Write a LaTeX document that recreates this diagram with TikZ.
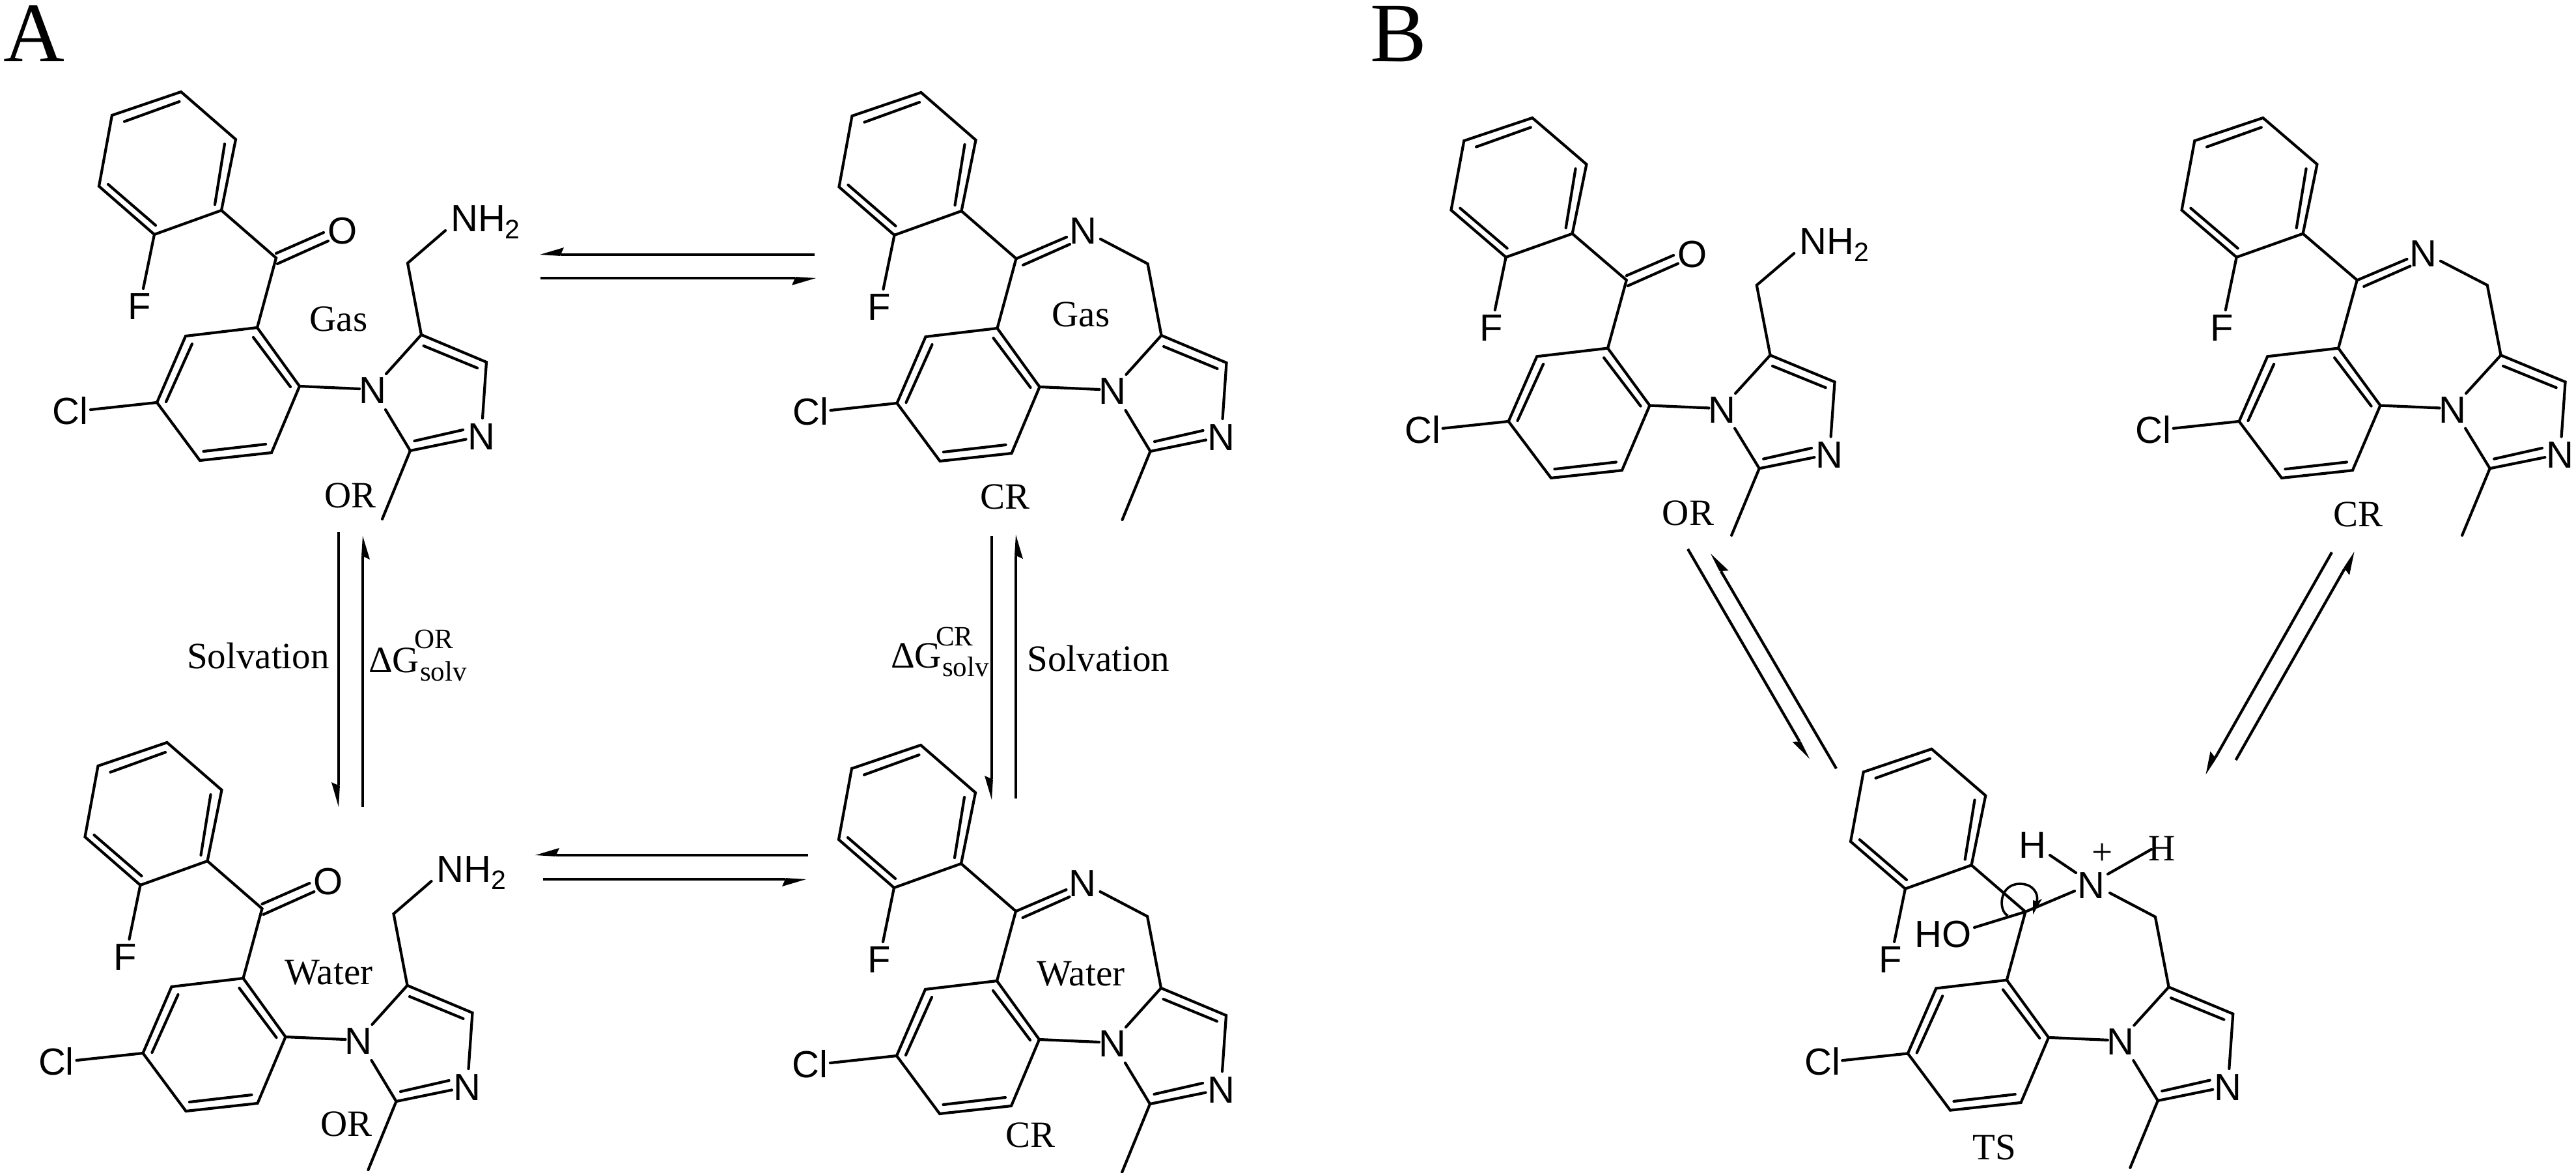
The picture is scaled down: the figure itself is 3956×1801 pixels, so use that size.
\documentclass[tikz,border=0pt]{standalone}
\usepackage{fontspec}
\setmainfont{Liberation Serif}
\newfontfamily\atomfam{Liberation Sans}
\usetikzlibrary{calc}
\tikzset{
  bond/.style={line width=4.2pt,line cap=round,line join=miter,black},
  rxn/.style={line width=4.2pt,line cap=butt,black},
  atom/.style={inner sep=0pt,font=\atomfam\fontsize{58}{60}\selectfont},
  atomb/.style={atom,anchor=base west},
  txt/.style={inner sep=0pt,font=\fontsize{57}{60}\selectfont},
  txtb/.style={txt,anchor=base west},
  idx/.style={inner sep=0pt,anchor=base west,font=\fontsize{43}{46}\selectfont},
  panel/.style={inner sep=0pt,anchor=base west,font=\fontsize{130}{135}\selectfont}
}
% common skeleton: #1 name prefix
\newcommand{\molcore}[1]{%
  \foreach \n/\x/\y in {a/278/141,b/362/214,c/340/323,d/237/360,e/152/286,f/172/177,
    ia/275.5/156,ib/191/186.6,ic/345/221,id/330/314,ie/166/283,if/239/346,
    g/424/396,h/395/503,i/460/593,j/417/695,k/307/707,l/241/618,m/285/516,
    ig/389/518,ih/446/594,ii/295/528,ij/255/617,ik/312.5/693,il/408/682,
    n/647/514,o/747/556,p/630/692,q/626/404,me/587/797,
    ff/220/443,cl/139/629,na/552/597,nb/593/574,nc/592/629,
    oa/741/642,ob/715.5/674.5,oc/711/660,od/636.5/677,
    im/650.5/531,in/733/565}
    {\coordinate (#1\n) at (\x,\y);}
  \draw[bond] (#1a)--(#1b)--(#1c)--(#1d)--(#1e)--(#1f)--cycle;
  \draw[bond] (#1ia)--(#1ib);
  \draw[bond] (#1ic)--(#1id);
  \draw[bond] (#1ie)--(#1if);
  \draw[bond] (#1h)--(#1i)--(#1j)--(#1k)--(#1l)--(#1m)--cycle;
  \draw[bond] (#1ig)--(#1ih);
  \draw[bond] (#1ii)--(#1ij);
  \draw[bond] (#1ik)--(#1il);
  \draw[bond] (#1c)--(#1g)--(#1h);
  \draw[bond] (#1d)--(#1ff);
  \draw[bond] (#1l)--(#1cl);
  \draw[bond] (#1i)--(#1na);
  \draw[bond] (#1nb)--(#1n)--(#1o)--(#1oa);
  \draw[bond] (#1nc)--(#1p)--(#1ob);
  \draw[bond] (#1oc)--(#1od);
  \draw[bond] (#1im)--(#1in);
  \draw[bond] (#1p)--(#1me);
  \node[atom] (#1F) at (214,471) {F};
  \node[atom] (#1Cl) at (108,631) {Cl};
  \node[atom] (#1Na) at (572,600) {N};
  \node[atom] (#1Nb) at (739,671) {N};
}
% ketone + aminomethyl
\newcommand{\oxopart}[1]{%
  \coordinate (#1ka) at (424,389); \coordinate (#1kb) at (497,357);
  \coordinate (#1kc) at (426,405); \coordinate (#1kd) at (504,370);
  \coordinate (#1ke) at (684,354);
  \draw[bond] (#1ka)--(#1kb);
  \draw[bond] (#1kc)--(#1kd);
  \draw[bond] (#1n)--(#1q)--(#1ke);
  \node[atom] (#1O) at (526,355) {O};
  \node[atomb] (#1NH) at (692,355) {NH\raisebox{-11pt}{\fontsize{41}{42}\selectfont 2}};
}
% imine ring closure
\newcommand{\iminepart}[1]{%
  \coordinate (#1ka) at (424.5,396); \coordinate (#1kb) at (501.5,363);
  \coordinate (#1kc) at (434.5,406); \coordinate (#1kd) at (506.5,374);
  \coordinate (#1ke) at (553.5,366);
  \draw[bond] (#1ka)--(#1kb);
  \draw[bond] (#1kc)--(#1kd);
  \draw[bond] (#1n)--(#1q)--(#1ke);
  \node[atom] (#1Nc) at (526.5,354) {N};
}
% half-headed reaction arrow: name, tail, tip, barb
\newcommand{\halfarrow}[4]{%
  \coordinate (#1t) at (#2);
  \coordinate (#1h) at (#3);
  \coordinate (#1b) at (#4);
  \coordinate (#1p) at ($(#1h)!(#1b)!(#1t)$);
  \coordinate (#1n) at ($(#1p)!5pt!(#1h)$);
  \coordinate (#1m) at ($(#1n)!-2.1pt!(#1b)$);
  \draw[rxn] (#1t)--(#1n);
  \fill[black] (#1h)--(#1b)--(#1n)--(#1m)--cycle;
}
\begin{document}
\begin{tikzpicture}[x=1pt,y=-1pt]
\useasboundingbox (0,0) rectangle (3956,1801);
\fill[white] (0,0) rectangle (3956,1801);

\node[panel] (panelA) at (5,95) {A};
\node[panel] (panelB) at (2104,95) {B};

% panel A molecules
\begin{scope}
  \molcore{ga}\oxopart{ga}
\end{scope}
\begin{scope}[shift={(1136.5,1)}]
  \molcore{gc}\iminepart{gc}
\end{scope}
\begin{scope}[shift={(-21.5,999)}]
  \molcore{wa}\oxopart{wa}
\end{scope}
\begin{scope}[shift={(1136,1003)}]
  \molcore{wc}\iminepart{wc}
\end{scope}

% panel B molecules
\begin{scope}[shift={(2078,43.2)},xscale=0.99,yscale=0.977]
  \molcore{bo}\oxopart{bo}
\end{scope}
\begin{scope}[shift={(3200,43.2)},xscale=0.99,yscale=0.977]
  \molcore{bc}\iminepart{bc}
\end{scope}
\begin{scope}[shift={(2692,1011.8)},xscale=0.987,yscale=0.98]
  \molcore{ts}
\end{scope}

% transition state extras
\node[atom] (tsNp) at (3211,1360) {N};
\node[atom] (tsHO) at (2984,1435) {HO};
\node[atom] (tsHa) at (3121,1298) {H};
\node[txt] (tsHb) at (3320,1303) {H};
\node[txt] (tsPlus) at (3229,1311) {+};
\coordinate (tsga) at (3032,1424);
\coordinate (tsgb) at (3186,1368);
\coordinate (tsqa) at (3240,1371);
\coordinate (tsha) at (3188,1340);
\coordinate (tshb) at (3148,1313);
\coordinate (tshc) at (3237,1342);
\coordinate (tshd) at (3304,1304);
\draw[bond] (tsga)--(tsg)--(tsgb);
\draw[bond] (tsqa)--(tsq)--(tsn);
\draw[bond] (tsha)--(tshb);
\draw[bond] (tshc)--(tshd);
\coordinate (cva) at (3083.5,1406);
\coordinate (cvb) at (3102,1357);
\coordinate (cvc) at (3128,1384);
\coordinate (cvd) at (3122,1404);
\coordinate (cve) at (3136,1380);
\coordinate (cvf) at (3122,1382);
\draw[line width=3.6pt,black] (cva) .. controls (3068,1398) and (3070,1357) .. (cvb) .. controls (3122,1357) and (3131,1372) .. (cvc);
\fill[black] (cvd)--(cve)--(cvc)--(cvf)--cycle;

% state labels
\node[txt] (lGasO) at (520,490) {Gas};
\node[txt] (lGasC) at (1660,483) {Gas};
\node[txt] (lOR) at (538,761) {OR};
\node[txt] (lCR) at (1543,763) {CR};
\node[txt] (lWatO) at (505,1493) {Water};
\node[txt] (lWatC) at (1660,1495) {Water};
\node[txt] (lORw) at (532,1726) {OR};
\node[txt] (lCRw) at (1582,1743) {CR};
\node[txt] (lORb) at (2592.5,788) {OR};
\node[txt] (lCRb) at (3621,790) {CR};
\node[txt] (lTS) at (3063,1762) {TS};

% solvation labels
\node[txtb] (sva) at (287,1026) {Solvation};
\node[txtb] (dga) at (566,1032) {ΔG};
\node[idx] (dgas) at (636.5,995) {OR};
\node[idx] (dgab) at (645,1045) {solv};
\node[txtb] (svb) at (1577.5,1030) {Solvation};
\node[txtb] (dgb) at (1368,1025) {ΔG};
\node[idx] (dgbs) at (1437,991) {CR};
\node[idx] (dgbb) at (1447,1038) {solv};

% equilibrium arrows, panel A
\halfarrow{ah}{1251,391}{829,391}{866,380}
\halfarrow{ai}{830,427}{1253,427}{1216,438}
\halfarrow{aj}{1241,1313}{822,1313}{859,1302}
\halfarrow{ak}{834,1350}{1238,1350}{1201,1361}
\halfarrow{al}{520,817}{520,1239}{509,1201}
\halfarrow{am}{557,1239}{557,823}{568,859}
\halfarrow{ao}{1523,823}{1523,1228}{1512,1191}
\halfarrow{aq}{1560,1226}{1560,821}{1571,858}

% equilibrium arrows, panel B
\halfarrow{ar}{2592,843}{2779,1165}{2752.5,1139}
\halfarrow{as}{2820,1180}{2627,850}{2654.5,876}
\halfarrow{au}{3581,848}{3387.5,1189}{3394.5,1153.5}
\halfarrow{av}{3433.5,1167}{3615.5,847}{3608,883}
\end{tikzpicture}
\end{document}
